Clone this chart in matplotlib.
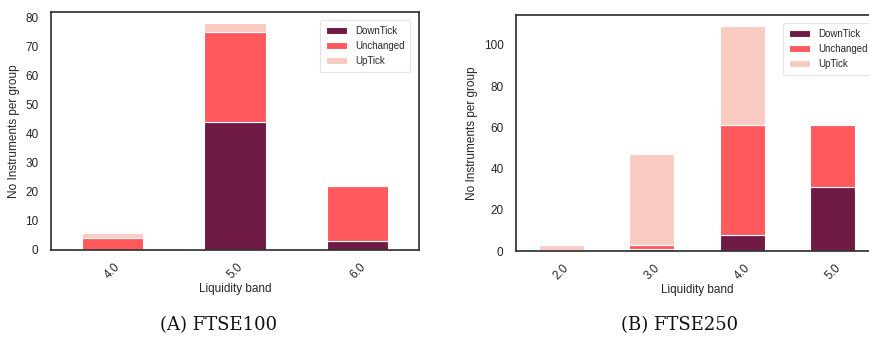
import matplotlib
matplotlib.use("Agg")
import matplotlib.pyplot as plt
import numpy as np

# Panel A: FTSE100
bands_a = ["4.0", "5.0", "6.0"]
down_a = [0, 44, 3]
unch_a = [4, 31, 19]
up_a = [2, 3, 0]

# Panel B: FTSE250
bands_b = ["2.0", "3.0", "4.0", "5.0"]
down_b = [0, 1, 8, 31]
unch_b = [0, 2, 53, 30]
up_b = [3, 44, 48, 0]

series_names = ["DownTick", "Unchanged", "UpTick"]
colors = ["#6f1a44", "#ff585d", "#facbc2"]
captions = ["(A) FTSE100", "(B) FTSE250"]

plt.rcParams["font.family"] = ["Liberation Sans", "DejaVu Sans"]
dark = "#262626"

fig = plt.figure(figsize=(8.69, 3.38), dpi=100)
W, H = 869, 338

def add_ax(x0, x1, y0, y1):
    return fig.add_axes([x0 / W, 1 - y1 / H, (x1 - x0) / W, (y1 - y0) / H])

ax_a = add_ax(51, 419, 12, 250)
ax_b = add_ax(516, 878, 15, 251)

def draw(ax, bands, down, unch, up, legend_anchor):
    x = np.arange(len(bands))
    bottom = np.zeros(len(bands))
    for vals, c, name in zip([down, unch, up], colors, series_names):
        vals = np.array(vals, dtype=float)
        ax.bar(x, vals, 0.5, bottom=bottom, color=c, edgecolor="white",
               linewidth=0.8, label=name)
        bottom += vals
    ax.set_xlim(-0.5, len(bands) - 0.5)
    ax.set_ylim(0, bottom.max() * 1.05)
    ax.set_xticks(x)
    ax.set_xticklabels(bands, rotation=45, fontsize=8.5, color=dark)
    ax.tick_params(axis="y", labelsize=8.5, labelcolor=dark, length=0, pad=9)
    ax.tick_params(axis="x", length=0, pad=8)
    ax.set_xlabel("Liquidity band", fontsize=8.5, color=dark, labelpad=1)
    ax.set_ylabel("No Instruments per group", fontsize=8.5, color=dark, labelpad=4)
    for s in ax.spines.values():
        s.set_color("#333333")
        s.set_linewidth(1.25)
    leg = ax.legend(loc="upper right", fontsize=7, frameon=True,
                    bbox_to_anchor=legend_anchor, borderpad=0.6,
                    handlelength=2.2, labelspacing=0.5)
    leg.get_frame().set_edgecolor("#dddddd")
    leg.get_frame().set_linewidth(0.8)
    for t in leg.get_texts():
        t.set_color(dark)

draw(ax_a, bands_a, down_a, unch_a, up_a, (0.99, 0.985))
draw(ax_b, bands_b, down_b, unch_b, up_b, (1.0, 0.985))

fig.text(219 / W, 1 - 325 / H, captions[0], ha="center", va="center",
         fontsize=13, family=["DejaVu Serif"], color="#111111")
fig.text(680 / W, 1 - 325 / H, captions[1], ha="center", va="center",
         fontsize=13, family=["DejaVu Serif"], color="#111111")

fig.savefig("out.png", dpi=100)
